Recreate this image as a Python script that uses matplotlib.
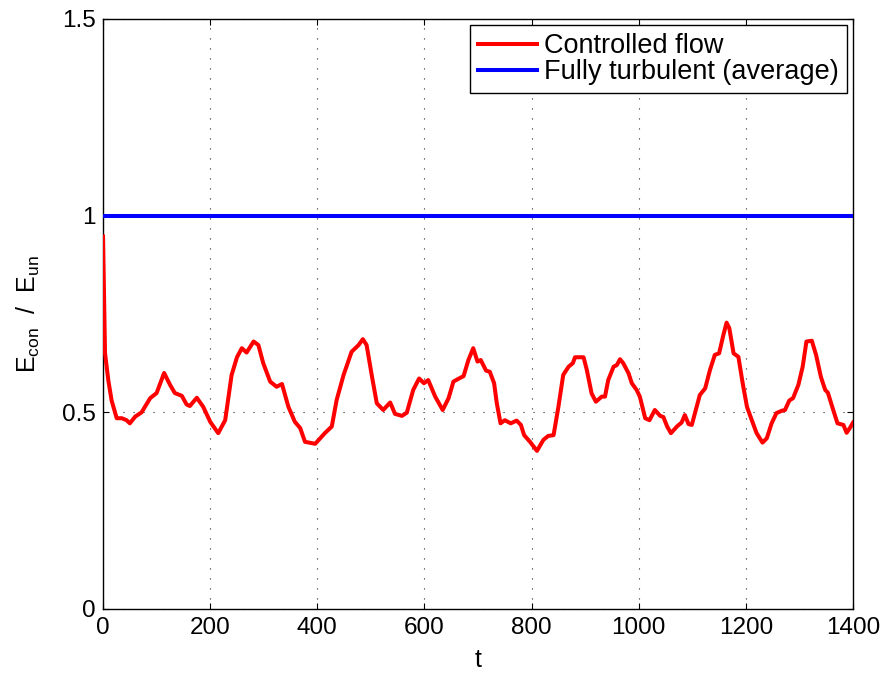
import matplotlib
matplotlib.use("Agg")
import matplotlib.pyplot as plt

plt.rcParams['font.family'] = ['Liberation Sans', 'DejaVu Sans']

t_ctrl = [0, 3.7, 10, 16, 25.5, 35, 44, 50, 60, 72, 88, 100, 114, 125, 134, 147, 156, 162,
          175, 187, 200, 215, 228, 240, 250, 259, 268, 281, 290, 299, 312, 324, 334, 346,
          358, 368, 377, 396, 414, 427, 436, 449, 464, 477, 485, 492, 502, 511, 523, 536,
          545, 558, 567, 579, 590, 599, 607, 620, 634, 645, 654, 663, 673, 682, 691, 699,
          705, 715, 722, 730, 735, 742, 750, 761, 772, 780, 786, 797, 810, 822, 831, 841,
          850, 859, 869, 877, 881, 897, 903, 912, 920, 931, 937, 943, 953, 959, 965, 971,
          981, 987, 996, 1002, 1012, 1020, 1030, 1040, 1046, 1053, 1060, 1072, 1080, 1086,
          1093, 1099, 1105, 1114, 1124, 1133, 1142, 1150, 1158, 1164, 1169, 1177, 1186,
          1194, 1202, 1211, 1220, 1231, 1239, 1248, 1257, 1267, 1273, 1281, 1288, 1298,
          1306, 1313, 1323, 1331, 1340, 1348, 1353, 1363, 1371, 1382, 1388, 1394, 1400]
e_ctrl = [0.947, 0.65, 0.58, 0.53, 0.485, 0.485, 0.48, 0.472, 0.489, 0.50, 0.536, 0.549,
          0.60, 0.57, 0.549, 0.542, 0.52, 0.516, 0.537, 0.514, 0.476, 0.447, 0.48, 0.595,
          0.64, 0.663, 0.652, 0.68, 0.671, 0.625, 0.578, 0.565, 0.572, 0.514, 0.476, 0.46,
          0.425, 0.42, 0.447, 0.464, 0.531, 0.595, 0.654, 0.671, 0.686, 0.671, 0.591,
          0.523, 0.506, 0.525, 0.496, 0.491, 0.499, 0.557, 0.586, 0.574, 0.582, 0.54,
          0.506, 0.536, 0.578, 0.585, 0.592, 0.633, 0.663, 0.629, 0.633, 0.606, 0.603,
          0.574, 0.523, 0.472, 0.48, 0.472, 0.479, 0.468, 0.442, 0.425, 0.402, 0.43, 0.44,
          0.442, 0.514, 0.595, 0.616, 0.625, 0.64, 0.64, 0.608, 0.548, 0.527, 0.54, 0.54,
          0.582, 0.616, 0.62, 0.635, 0.625, 0.599, 0.574, 0.557, 0.54, 0.485, 0.48, 0.506,
          0.491, 0.488, 0.464, 0.447, 0.465, 0.474, 0.493, 0.47, 0.468, 0.498, 0.544,
          0.561, 0.608, 0.646, 0.65, 0.697, 0.728, 0.714, 0.65, 0.641, 0.574, 0.514, 0.48,
          0.447, 0.423, 0.434, 0.472, 0.498, 0.504, 0.506, 0.53, 0.536, 0.57, 0.616, 0.68,
          0.682, 0.646, 0.59, 0.557, 0.55, 0.506, 0.472, 0.468, 0.448, 0.46, 0.474]

t_turb = [0, 1400]
e_turb = [1.0, 1.0]

xticks = [0, 200, 400, 600, 800, 1000, 1200, 1400]
yticks = [0, 0.5, 1, 1.5]
ytick_labels = ['0', '0.5', '1', '1.5']

fig = plt.figure(figsize=(8.86, 6.73), dpi=100)
ax = fig.add_axes([0.1163, 0.0951, 0.8465, 0.8767])

ax.plot(t_ctrl, e_ctrl, color='#ff0000', lw=2.9, label='Controlled flow', zorder=3,
        solid_joinstyle='round')
ax.plot(t_turb, e_turb, color='#0000ff', lw=2.9, label='Fully turbulent (average)', zorder=3)

ax.set_xlim(0, 1400)
ax.set_ylim(0, 1.5)
ax.set_xticks(xticks)
ax.set_yticks(yticks)
ax.set_yticklabels(ytick_labels)
ax.tick_params(direction='in', labelsize=17.5, length=4.5, width=0.8,
               top=True, right=True, pad=5.5)
ax.grid(True, linestyle=(0, (1, 8)), color='black', lw=0.8, alpha=0.85)
for s in ax.spines.values():
    s.set_linewidth(1.0)

ax.set_xlabel('t', fontsize=18, labelpad=7)
ax.set_ylabel(r'$\mathregular{E_{con}}$  /  $\mathregular{E_{un}}$', fontsize=18,
              labelpad=14)

leg = ax.legend(loc='upper right', fontsize=19.5, frameon=True, fancybox=False,
                edgecolor='black', framealpha=1, handlelength=2.15, handletextpad=0.28,
                borderpad=0.3, labelspacing=0.0, borderaxespad=0.22)
leg.get_frame().set_linewidth(1.0)

fig.savefig('out.png', dpi=100)
